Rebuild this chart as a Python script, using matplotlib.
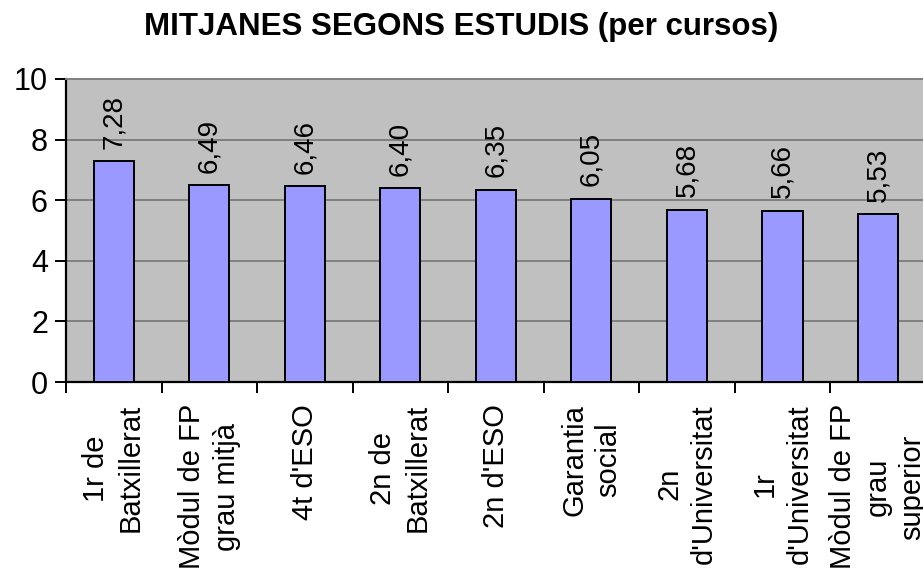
import numpy as np
import matplotlib
matplotlib.use('Agg')
import matplotlib.pyplot as plt

plt.rcParams['font.family'] = ['Liberation Sans', 'DejaVu Sans']

# data
categories = ["1r de\nBatxillerat", "Mòdul de FP\ngrau mitjà", "4t d'ESO",
              "2n de\nBatxillerat", "2n d'ESO", "Garantia\nsocial",
              "2n\nd'Universitat", "1r\nd'Universitat",
              "Mòdul de FP\ngrau\nsuperior"]
values = [7.28, 6.49, 6.46, 6.40, 6.35, 6.05, 5.68, 5.66, 5.53]
yticks = [0, 2, 4, 6, 8, 10]

title = "MITJANES SEGONS ESTUDIS (per cursos)"

fig = plt.figure(figsize=(9.23, 5.69), dpi=100)
ax = fig.add_axes([0.0715, 0.3286, 0.9315, 0.5326])
ax.set_facecolor('#C0C0C0')

x = np.arange(len(categories))
ax.bar(x, values, width=0.42, color='#9999FF', edgecolor='black',
       linewidth=1.4, zorder=3)

for xi, v in zip(x, values):
    ax.annotate(f"{v:.2f}".replace('.', ','), (xi, v), xytext=(0, 9),
                textcoords='offset points', rotation=90, ha='center',
                va='bottom', fontsize=20, zorder=4)

ax.set_xlim(-0.5, len(categories) - 0.5)
ax.set_ylim(0, 10)
ax.set_yticks(yticks)
ax.yaxis.grid(True, color='#808080', linewidth=1.4, zorder=1)
ax.tick_params(axis='y', labelsize=22, length=8, width=1.4, pad=5)

ax.set_xticks(x)
ax.set_xticklabels(categories, rotation=90, fontsize=21, ha='center',
                   va='top', multialignment='center', linespacing=1.3)
ax.tick_params(axis='x', which='major', length=0, pad=16)
ax.set_xticks(np.arange(len(categories)) - 0.5, minor=True)
ax.tick_params(axis='x', which='minor', length=8, width=1.4)

for side in ['left', 'bottom']:
    ax.spines[side].set_color('black')
    ax.spines[side].set_linewidth(1.6)
for side in ['top', 'right']:
    ax.spines[side].set_color('#808080')
    ax.spines[side].set_linewidth(1.4)

fig.text(0.5, 0.952, title, ha='center', va='center', fontsize=22.5,
         fontweight='bold')

fig.savefig('out.png', dpi=100)
